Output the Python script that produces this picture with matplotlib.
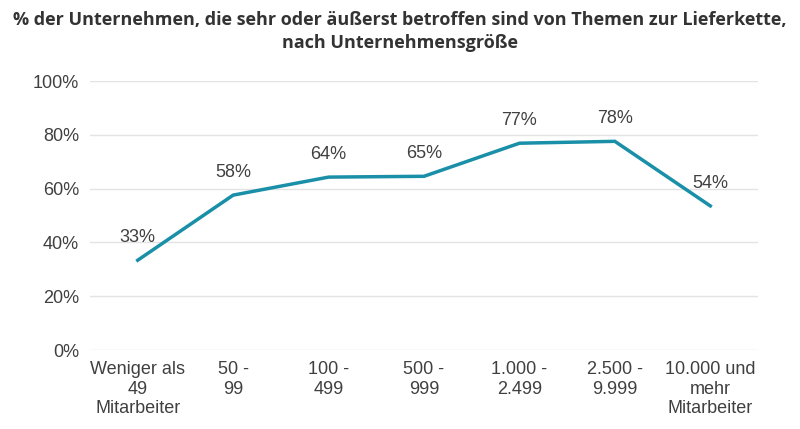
import matplotlib.pyplot as plt

# chart data
categories = ["Weniger als\n49\nMitarbeiter", "50 -\n99", "100 -\n499", "500 -\n999",
              "1.000 -\n2.499", "2.500 -\n9.999", "10.000 und\nmehr\nMitarbeiter"]
values = [33.4, 57.6, 64.3, 64.6, 76.9, 77.6, 53.6]
labels = ["33%", "58%", "64%", "65%", "77%", "78%", "54%"]
yticks = [0, 20, 40, 60, 80, 100]

title = ("% der Unternehmen, die sehr oder äußerst betroffen sind von Themen zur Lieferkette,\n"
         "nach Unternehmensgröße")

fig = plt.figure(figsize=(8, 4.29), dpi=100)
ax = fig.add_axes([0.1125, 0.184, 0.835, 0.627])

x = list(range(len(categories)))
ax.plot(x, values, color="#1A8FA8", linewidth=2.5, solid_joinstyle="miter")

for xi, v, lab in zip(x, values, labels):
    ax.annotate(lab, (xi, v), xytext=(0, 10), textcoords="offset points",
                ha="center", va="bottom", fontsize=13, color="#404040",
                family="Liberation Sans")

ax.set_xlim(-0.5, len(categories) - 0.5)
ax.set_ylim(0, 100)
ax.set_yticks(yticks)
ax.set_yticklabels([f"{t}%" for t in yticks])
ax.set_xticks(x)
ax.set_xticklabels(categories)

ax.grid(axis="y", color="#E3E3E3", linewidth=1)
ax.set_axisbelow(True)
for s in ax.spines.values():
    s.set_visible(False)
ax.tick_params(length=0, labelsize=13, colors="#404040", pad=8)
for t in ax.get_xticklabels() + ax.get_yticklabels():
    t.set_family("Liberation Sans")
    t.set_linespacing(1.2)

fig.text(0.5, 0.975, title, ha="center", va="top", fontsize=13,
         fontweight="bold", color="#333333", family="Open Sans", linespacing=1.35)

fig.savefig("out.png", dpi=100)
